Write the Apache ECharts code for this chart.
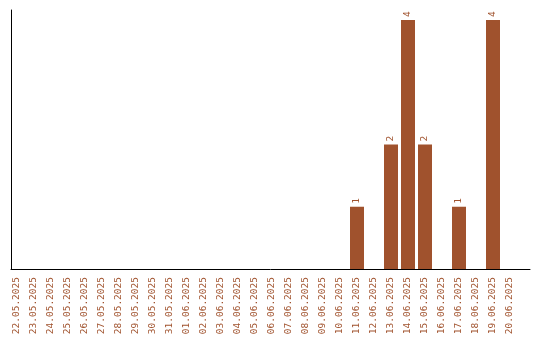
<!DOCTYPE html>
<html><head><meta charset="utf-8">
<script src="https://cdn.jsdelivr.net/npm/echarts@6/dist/echarts.min.js"></script>
<style>html,body{margin:0;padding:0;background:#fff}#c{width:540px;height:340px}</style>
</head><body><div id="c"></div>
<script>
const categories = ["22.05.2025","23.05.2025","24.05.2025","25.05.2025","26.05.2025","27.05.2025","28.05.2025","29.05.2025","30.05.2025","31.05.2025","01.06.2025","02.06.2025","03.06.2025","04.06.2025","05.06.2025","06.06.2025","07.06.2025","08.06.2025","09.06.2025","10.06.2025","11.06.2025","12.06.2025","13.06.2025","14.06.2025","15.06.2025","16.06.2025","17.06.2025","18.06.2025","19.06.2025","20.06.2025"];
const values = [null,null,null,null,null,null,null,null,null,null,null,null,null,null,null,null,null,null,null,null,1,null,2,4,2,null,1,null,4,null];
const brown = '#A0522D';
const chart = echarts.init(document.getElementById('c'));
chart.setOption({
  animation: false,
  grid: [
    {left: 8.5, right: 21.5, top: 10, bottom: 71},
    {left: 11, right: 10, top: 10, bottom: 71}
  ],
  xAxis: [
    {type: 'category', gridIndex: 0, data: categories,
     axisLine: {show: false}, axisTick: {show: false},
     axisLabel: {rotate: 90, margin: 8, interval: 0, color: brown, fontFamily: 'DejaVu Sans Mono', fontSize: 9.5}},
    {type: 'value', gridIndex: 1, min: 0, max: 1, axisLine: {show: true, lineStyle: {color: '#000', width: 1}},
     axisTick: {show: false}, axisLabel: {show: false}, splitLine: {show: false}}
  ],
  yAxis: [
    {type: 'value', gridIndex: 0, min: 0, max: 4.16, axisLine: {show: false}, axisTick: {show: false},
     axisLabel: {show: false}, splitLine: {show: false}},
    {type: 'value', gridIndex: 1, min: 0, max: 1, axisLine: {show: true, lineStyle: {color: '#000', width: 1}},
     axisTick: {show: false}, axisLabel: {show: false}, splitLine: {show: false}}
  ],
  series: [{
    type: 'bar', xAxisIndex: 0, yAxisIndex: 0, data: values, barWidth: 14,
    itemStyle: {color: brown},
    label: {show: true, position: 'top', rotate: 90, align: 'left', verticalAlign: 'middle', distance: 3,
      color: brown, fontFamily: 'DejaVu Sans Mono', fontSize: 9.5}
  }]
});
</script></body></html>
